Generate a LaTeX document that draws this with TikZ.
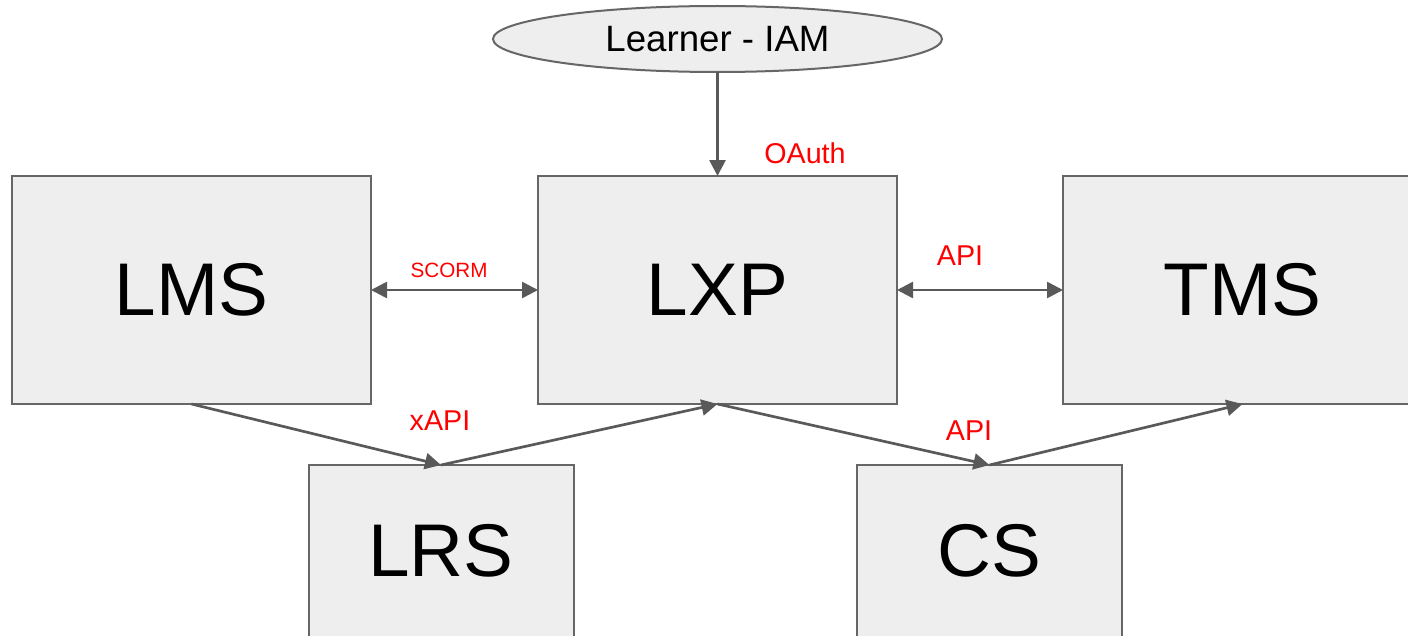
\documentclass[tikz,border=0pt]{standalone}
\usepackage{fontspec}
\setmainfont{Liberation Sans}
\usetikzlibrary{arrows.meta,shapes.geometric}
\newlength\pxu
\setlength\pxu{0.75pt}
\definecolor{boxfill}{HTML}{EEEEEE}
\definecolor{boxline}{HTML}{666666}
\definecolor{linkline}{HTML}{595959}
\definecolor{tagred}{HTML}{FF0000}
\tikzset{
  sysbox/.style={draw=boxline, fill=boxfill, line width=1.5pt, rectangle,
    inner sep=0pt, outer sep=0pt, font=\fontsize{56}{58}\selectfont},
  bigbox/.style={sysbox, minimum width=359*\pxu, minimum height=228*\pxu},
  smallbox/.style={sysbox, minimum width=265*\pxu, minimum height=172*\pxu},
  userpill/.style={draw=boxline, fill=boxfill, line width=1.5pt, ellipse,
    inner sep=0pt, outer sep=0pt, minimum width=449*\pxu, minimum height=66*\pxu,
    font=\fontsize{27.5}{29}\selectfont},
  tip/.tip={Triangle[length=12pt,width=12pt]},
  link/.style={draw=linkline, line width=2pt, -tip},
  duallink/.style={link, tip-tip},
  tag/.style={text=tagred, inner sep=0pt, font=\fontsize{21.5}{23}\selectfont},
  smalltag/.style={tag, font=\fontsize{15.5}{17}\selectfont}
}
\begin{document}
\begin{tikzpicture}[x=0.75pt, y=-0.75pt]
  \clip (0,0) rectangle (1408,635);
  \fill[white] (0,0) rectangle (1408,635);

  % systems
  \node[userpill] (iam) at (717.5,39) {\raisebox{-1.5pt}{Learner - IAM}};
  \node[bigbox] (lms) at (191.5,290) {LMS};
  \node[bigbox] (lxp) at (717.5,290) {LXP};
  \node[bigbox] (tms) at (1242.5,290) {TMS};
  \node[smallbox] (lrs) at (441,551) {LRS};
  \node[smallbox] (cs) at (989.5,551) {CS};

  % connections
  \draw[link] (iam.south) -- (lxp.north);
  \draw[duallink] (lms.east) -- (lxp.west);
  \draw[duallink] (lxp.east) -- (tms.west);
  \draw[link] (lms.south) -- (lrs.north);
  \draw[link] (lrs.north) -- (lxp.south);
  \draw[link] (lxp.south) -- (cs.north);
  \draw[link] (cs.north) -- (tms.south);

  % protocol labels
  \node[tag] (oauth) at (805,153) {OAuth};
  \node[smalltag] (scorm) at (449,270) {SCORM};
  \node[tag] (apitop) at (960,256) {API};
  \node[tag] (xapi) at (440,421) {xAPI};
  \node[tag] (apibottom) at (969,431) {API};
\end{tikzpicture}
\end{document}
